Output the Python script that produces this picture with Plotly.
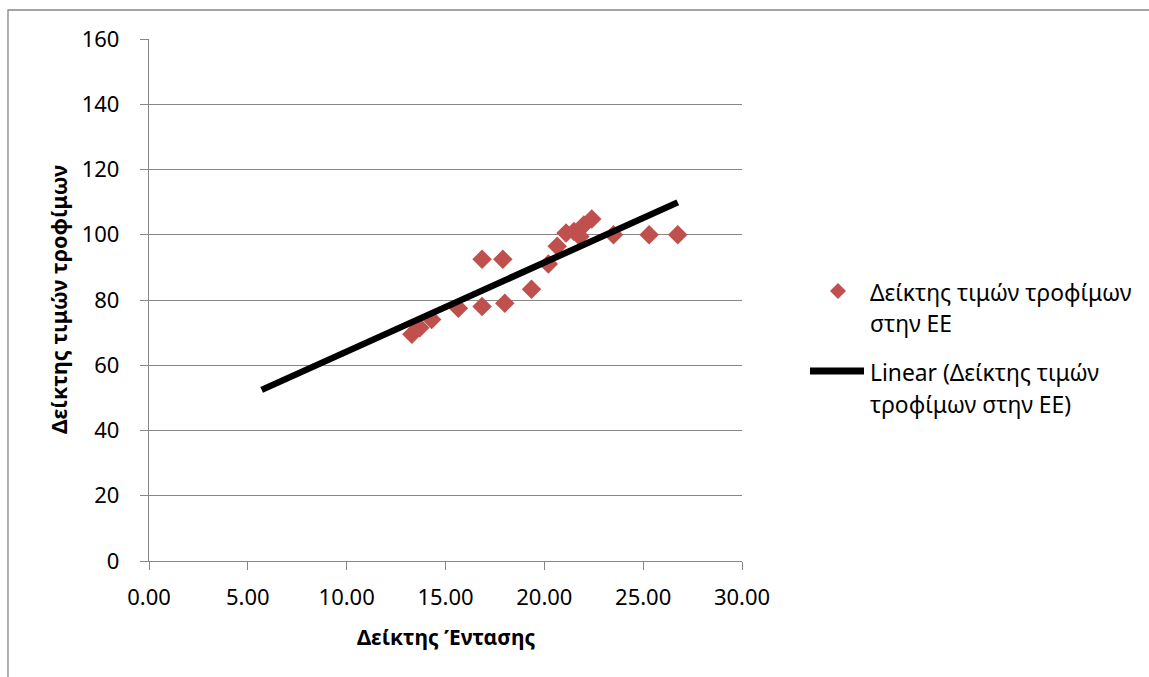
import numpy as np
import plotly.graph_objects as go

# Data
intensity_index = [13.3, 13.7, 14.3, 15.65, 16.85, 18.0, 16.85, 17.9, 19.35, 20.2,
                   20.65, 21.1, 21.5, 21.8, 22.0, 22.4, 23.5, 25.3, 26.75]
food_price_index = [69.5, 71.5, 74.0, 77.5, 78.0, 79.0, 92.5, 92.5, 83.3, 91.0,
                    96.5, 100.5, 101.0, 99.5, 103.0, 104.8, 100.0, 100.0, 100.0]
trend_start_x = 5.7  # trendline backward forecast start

series_lines = ["Δείκτης τιμών τροφίμων", "στην ΕΕ"]
trend_lines = ["Linear (Δείκτης τιμών", "τροφίμων στην ΕΕ)"]
x_title = "Δείκτης Έντασης"
y_title = "Δείκτης τιμών τροφίμων"
x_ticks = [0, 5, 10, 15, 20, 25, 30]
y_ticks = [0, 20, 40, 60, 80, 100, 120, 140, 160]

slope, intercept = np.polyfit(intensity_index, food_price_index, 1)
tx = [trend_start_x, max(intensity_index)]
ty = [slope * v + intercept for v in tx]

FONT = "Noto Sans"
GRID = "#878787"
RED = "#C0504D"
W, H = 1149, 677
L, R, T, B = 149, 407, 39, 116
PW, PH = W - L - R, H - T - B


def px(x):
    return (x - L) / PW


def py(y):
    return (H - B - y) / PH


fig = go.Figure()
fig.add_trace(go.Scatter(
    x=intensity_index, y=food_price_index, mode="markers", name=" ".join(series_lines),
    marker=dict(symbol="diamond", size=15, color=RED), showlegend=False,
))
fig.add_trace(go.Scatter(
    x=tx, y=ty, mode="lines", name=" ".join(trend_lines),
    line=dict(color="black", width=6.5), showlegend=False,
))

fig.update_layout(
    width=W, height=H,
    margin=dict(l=L, r=R, t=T, b=B),
    plot_bgcolor="white", paper_bgcolor="white",
    font=dict(family=FONT, size=22, color="black"),
    showlegend=False,
    xaxis=dict(range=[0, 30], tickvals=x_ticks, tickformat=".2f",
               showgrid=False, zeroline=False, showline=True, linecolor=GRID,
               linewidth=1.3, ticks="outside", ticklen=8, tickcolor=GRID, tickwidth=1.3,
               tickfont=dict(size=22), fixedrange=True, ticklabelstandoff=8),
    yaxis=dict(range=[0, 160], tickvals=y_ticks, showgrid=True, gridcolor=GRID,
               gridwidth=1.3, zeroline=False, showline=True, linecolor=GRID,
               linewidth=1.3, ticks="outside", ticklen=8, tickcolor=GRID, tickwidth=1.3,
               tickfont=dict(size=22), fixedrange=True, ticklabelstandoff=16),
)

# axis titles
fig.add_annotation(text="<b>" + x_title + "</b>", xref="paper", yref="paper",
                   x=0.5, y=py(637), xanchor="center", yanchor="middle",
                   showarrow=False, font=dict(size=21))
fig.add_annotation(text="<b>" + y_title + "</b>", xref="paper", yref="paper",
                   x=px(58), y=0.5, xanchor="center", yanchor="middle", textangle=-90,
                   showarrow=False, font=dict(size=21.5))

# legend (manual, to match layout)
cx, cy, hw = 838, 291, 8
fig.add_shape(type="path", xref="paper", yref="paper",
              path=f"M {px(cx - hw)},{py(cy)} L {px(cx)},{py(cy - hw)} L {px(cx + hw)},{py(cy)} L {px(cx)},{py(cy + hw)} Z",
              fillcolor=RED, line=dict(width=0))
fig.add_shape(type="line", xref="paper", yref="paper",
              x0=px(810), x1=px(864), y0=py(371), y1=py(371),
              line=dict(color="black", width=7))
for txt, yy in zip(series_lines + trend_lines, [292, 324, 372, 404]):
    fig.add_annotation(text=txt, xref="paper", yref="paper", x=px(868), y=py(yy),
                       xanchor="left", yanchor="middle", showarrow=False,
                       font=dict(size=22.8))

# outer chart border
fig.add_shape(type="rect", xref="paper", yref="paper",
              x0=px(8), x1=2, y0=-2, y1=py(10),
              line=dict(color=GRID, width=1.3), fillcolor="rgba(0,0,0,0)", layer="below")

fig.write_html("out.html")
